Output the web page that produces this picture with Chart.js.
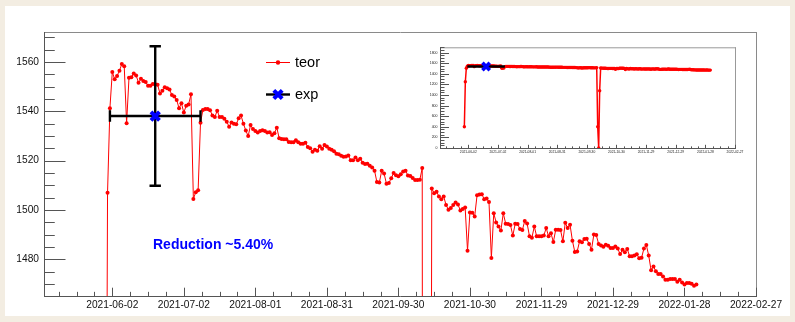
<!DOCTYPE html>
<html><head><meta charset="utf-8">
<script src="https://cdn.jsdelivr.net/npm/chart.js@4.4.0/dist/chart.umd.min.js"></script>
<style>
html,body{margin:0;padding:0;background:#f3ede2;}
#wrap{position:relative;width:795px;height:322px;overflow:hidden;}
#pad{position:absolute;left:5px;top:6px;width:785px;height:310px;background:#ffffff;}
#main{position:absolute;left:0;top:0;}
#inset{position:absolute;left:420px;top:33px;}
</style></head><body>
<div id="wrap"><div id="pad"></div>
<canvas id="main" width="795" height="322"></canvas>
<canvas id="inset" width="336" height="132"></canvas>
</div>
<script>
// ---------------- data ----------------
const teorStartDate = '2021-05-29';   // first daily value
const teorValues = [
 400,1250,1507,1541.3,1556,1553,1554.4,1556.5,1559.2,1558.3,
 1535.2,1553.6,1553.8,1555.4,1554.6,1551.6,1553.2,1552.3,1551.9,1550.4,
 1550.4,1551.1,1551,1550.8,1547.3,1548.4,1549.8,1549.4,1548.9,1546.6,
 1546,1544.6,1541.3,1543.3,1539.5,1542.3,1542.8,1546.9,1504.5,1507.2,
 1508,1535.4,1540.6,1541,1541,1540.5,1538.3,1537.7,1540.3,1537.7,
 1537.7,1537,1535.8,1533.8,1535.5,1535,1534.8,1537.2,1538.3,1535,
 1532.2,1530,1534.5,1532.8,1532,1531.4,1532,1532.3,1532,1531.4,
 1531.5,1530.4,1531.1,1533.4,1529.1,1528.8,1528.7,1528.7,1527.6,1527.5,
 1527.5,1528.3,1527.5,1526.9,1526.9,1527.3,1525.5,1525,1523.6,1524.4,
 1524,1525.9,1524.8,1526.4,1525.7,1524.8,1524.4,1523.8,1522.8,1522.6,
 1522,1521.6,1521.7,1522.1,1520.2,1520.2,1521.3,1520.2,1520.8,1519.2,
 1518.6,1518.8,1517.9,1517.2,1515.9,1511.3,1511.1,1515.9,1514.8,1510.6,
 1510.9,1512.9,1515,1514.1,1513.7,1514.5,1515.6,1515.9,1514,1513.8,
 1513,1512.2,1512.2,1512.3,1517,400,0,1080,1508.7,1506.8,
 1507.4,1505.5,1504.4,1505.5,1502,1500.1,1500.8,1502,1503,1502.2,
 1499.8,1500.4,1501,1483.5,1499,1498.9,1497.4,1506,1506.3,1506.4,
 1504.4,1504.7,1503.2,1480.5,1498.7,1494.9,1493.3,1491.7,1498.7,1494.4,
 1494.3,1493.9,1489.6,1494.4,1494.3,1492.3,1491.9,1495.5,1494.5,1489.3,
 1488.7,1493.3,1489.3,1489.3,1489.3,1489.6,1492.7,1489.3,1490.6,1487,
 1492,1492,1491.9,1487.3,1494.8,1492.7,1494,1487.5,1483,1483.2,
 1487.3,1486.9,1488.2,1488.3,1486.2,1483.9,1490.1,1489.8,1486.2,1485.6,
 1485.1,1485.9,1485.5,1484.6,1484.6,1485.2,1484.4,1482.1,1483.9,1482.8,
 1484.2,1481.2,1481.2,1481.5,1482,1480.4,1480.6,1484.4,1485.8,1481.5,
 1475.5,1477.1,1475.1,1474,1474,1473,1471.7,1471.7,1472,1472,
 1472,1470.9,1471.7,1470.6,1469.8,1470.4,1470.4,1470.1,1469.3,1469.8
];
const expDate = '2021-06-20';
const expValue = 1538.1;
const expDateErr = 19;      // days
const expValueErr = 28.3;
const xTickLabels = ['2021-06-02','2021-07-02','2021-08-01','2021-08-31','2021-09-30','2021-10-30','2021-11-29','2021-12-29','2022-01-28','2022-02-27'];
const yTickValues = [1480,1500,1520,1540,1560];
const insetYTickValues = [0,200,400,600,800,1000,1200,1400,1600,1800];
const legendLabels = ['teor','exp'];
const annotationText = 'Reduction ~5.40%';

// ---------------- helpers ----------------
const DAY = 86400000;
function dayNum(s){ return Date.UTC(+s.slice(0,4), +s.slice(5,7)-1, +s.slice(8,10))/DAY; }
const t0 = dayNum(teorStartDate);
const teorPoints = teorValues.map((v,i)=>({x:t0+i, y:v}));
const expPoint = [{x:dayNum(expDate), y:expValue}];
const xMin = dayNum(xTickLabels[0]) - 28.65;
const xMax = dayNum(xTickLabels[xTickLabels.length-1]);
const FONT = "'Liberation Sans', Arial, Helvetica, sans-serif";
Chart.defaults.font.family = FONT;

function rootAxes(o){ return {
  id:'rootAxes',
  beforeDatasetsDraw(chart){
    const {ctx, chartArea:a, scales:{x,y}} = chart;
    ctx.save();
    ctx.lineWidth = 1;
    ctx.strokeStyle = o.frameColor;
    ctx.beginPath();
    ctx.moveTo(a.left, a.top+0.5); ctx.lineTo(a.right+1, a.top+0.5);
    ctx.moveTo(a.right+0.5, a.top); ctx.lineTo(a.right+0.5, a.bottom+1);
    ctx.stroke();
    ctx.strokeStyle = o.axisColor;
    ctx.beginPath();
    ctx.moveTo(a.left+0.5, a.top); ctx.lineTo(a.left+0.5, a.bottom+1);
    ctx.moveTo(a.left, a.bottom+0.5); ctx.lineTo(a.right+1, a.bottom+0.5);
    // y ticks
    for (let v = Math.ceil(y.min/o.yMinor)*o.yMinor; v <= y.max; v += o.yMinor){
      const py = Math.round(y.getPixelForValue(v))+0.5;
      const major = Math.abs(v/o.yMajor - Math.round(v/o.yMajor)) < 1e-6;
      ctx.moveTo(a.left, py); ctx.lineTo(a.left + (major?o.yLen:o.yLen/2), py);
    }
    // x ticks
    const first = dayNum(xTickLabels[0]);
    for (let k = -8; first + k*o.xMinor <= x.max + 0.01; k++){
      const v = first + k*o.xMinor;
      if (v < x.min) continue;
      const px = Math.round(x.getPixelForValue(v))+0.5;
      const major = k % 4 === 0;
      ctx.moveTo(px, a.bottom); ctx.lineTo(px, a.bottom - (major?o.xLen:o.xLen/2));
    }
    ctx.stroke();
    ctx.restore();
  }
};}

function errBars(o){ return {
  id:'errBars',
  beforeDatasetDraw(chart, args){
    if (chart.data.datasets[args.index].label !== 'exp') return;
    const {ctx, chartArea:a, scales:{x,y}} = chart;
    const cx = x.getPixelForValue(dayNum(expDate)), cy = y.getPixelForValue(expValue);
    const xl = x.getPixelForValue(dayNum(expDate)-expDateErr), xr = x.getPixelForValue(dayNum(expDate)+expDateErr);
    const yt = y.getPixelForValue(expValue+expValueErr), yb = y.getPixelForValue(expValue-expValueErr);
    ctx.save();
    ctx.beginPath(); ctx.rect(a.left, a.top, a.right-a.left, a.bottom-a.top); ctx.clip();
    ctx.strokeStyle = '#000'; ctx.lineWidth = o.width;
    ctx.beginPath();
    ctx.moveTo(xl, cy); ctx.lineTo(xr, cy);
    ctx.moveTo(cx, yt); ctx.lineTo(cx, yb);
    if (o.cap){
      ctx.moveTo(xl, cy-o.cap); ctx.lineTo(xl, cy+o.cap);
      ctx.moveTo(xr, cy-o.cap); ctx.lineTo(xr, cy+o.cap);
      ctx.moveTo(cx-o.cap, yt); ctx.lineTo(cx+o.cap, yt);
      ctx.moveTo(cx-o.cap, yb); ctx.lineTo(cx+o.cap, yb);
    }
    ctx.stroke();
    ctx.restore();
  }
};}

const legendAndText = {
  id:'legendAndText',
  afterDraw(chart){
    const ctx = chart.ctx;
    ctx.save();
    // teor entry
    ctx.strokeStyle = '#ff0000'; ctx.lineWidth = 1;
    ctx.beginPath(); ctx.moveTo(266, 62.5); ctx.lineTo(290, 62.5); ctx.stroke();
    ctx.fillStyle = '#ff0000';
    ctx.beginPath(); ctx.arc(278, 62.5, 2.2, 0, Math.PI*2); ctx.fill();
    // exp entry
    ctx.strokeStyle = '#000'; ctx.lineWidth = 2.4;
    ctx.beginPath(); ctx.moveTo(266, 94.5); ctx.lineTo(290, 94.5); ctx.stroke();
    ctx.strokeStyle = '#0000ff'; ctx.lineWidth = 4;
    const r = 4.2;
    ctx.beginPath();
    ctx.moveTo(278-r, 94.5-r); ctx.lineTo(278+r, 94.5+r);
    ctx.moveTo(278-r, 94.5+r); ctx.lineTo(278+r, 94.5-r);
    ctx.stroke();
    ctx.fillStyle = '#000';
    ctx.font = "14.5px " + FONT;
    ctx.textBaseline = 'alphabetic'; ctx.textAlign = 'left';
    ctx.fillText(legendLabels[0], 295, 66.8);
    ctx.fillText(legendLabels[1], 295, 98.5);
    // annotation
    ctx.fillStyle = '#0000ff';
    ctx.font = "bold 14px " + FONT;
    ctx.fillText(annotationText, 153, 249);
    ctx.restore();
  }
};

// ---------------- main chart ----------------
new Chart(document.getElementById('main'), {
  type:'line',
  data:{ datasets:[
    { label:'exp', data:expPoint, showLine:false, order:0,
      pointStyle:'crossRot', pointRadius:6, pointBorderWidth:4,
      borderColor:'#0000ff', backgroundColor:'#0000ff' },
    { label:'teor', data:teorPoints, order:1, borderColor:'#ff0000', borderWidth:1,
      pointRadius:2, pointBorderWidth:0, pointBackgroundColor:'#ff0000', tension:0 }
  ]},
  options:{
    responsive:false, animation:false, events:[], devicePixelRatio:1,
    layout:{ padding:{ left:0, right:39, top:32, bottom:0 } },
    plugins:{ legend:{display:false}, tooltip:{enabled:false} },
    scales:{
      x:{ type:'linear', min:xMin, max:xMax,
        afterBuildTicks:s=>{ s.ticks = xTickLabels.map(l=>({value:dayNum(l)})); },
        afterFit:s=>{ s.height = 26; },
        grid:{display:false, drawTicks:false}, border:{display:false},
        ticks:{ autoSkip:false, maxRotation:0, minRotation:0, padding:3, color:'#111',
          font:{size:10.2}, callback:(v,i)=>xTickLabels[i] } },
      y:{ type:'linear', min:1465.1, max:1572.2,
        afterBuildTicks:s=>{ s.ticks = yTickValues.map(v=>({value:v})); },
        afterFit:s=>{ s.width = 44; },
        grid:{display:false, drawTicks:false}, border:{display:false},
        ticks:{ padding:5, color:'#111', font:{size:10.2}, callback:v=>String(v) } }
    }
  },
  plugins:[ rootAxes({frameColor:'#8a8a8a', axisColor:'#555', yMinor:5, yMajor:20, yLen:21.5, xMinor:7.5, xLen:8.3}),
            errBars({width:2.4, cap:5.7}), legendAndText ]
});

// ---------------- inset chart ----------------
new Chart(document.getElementById('inset'), {
  type:'line',
  data:{ datasets:[
    { label:'exp', data:expPoint, showLine:false, order:0,
      pointStyle:'crossRot', pointRadius:5.2, pointBorderWidth:3.6,
      borderColor:'#0000ff', backgroundColor:'#0000ff' },
    { label:'teor', data:teorPoints, order:1, borderColor:'#ff0000', borderWidth:1.5,
      pointRadius:1.7, pointBorderWidth:0, pointBackgroundColor:'#ff0000', tension:0 }
  ]},
  options:{
    responsive:false, animation:false, events:[], devicePixelRatio:1,
    layout:{ padding:{ left:0, right:21, top:14.3, bottom:0 } },
    plugins:{ legend:{display:false}, tooltip:{enabled:false} },
    scales:{
      x:{ type:'linear', min:xMin, max:xMax,
        afterBuildTicks:s=>{ s.ticks = xTickLabels.map(l=>({value:dayNum(l)})); },
        afterFit:s=>{ s.height = 17; },
        grid:{display:false, drawTicks:false}, border:{display:false},
        ticks:{ autoSkip:false, maxRotation:0, minRotation:0, padding:2, color:'#222',
          font:{size:3.3}, callback:(v,i)=>xTickLabels[i] } },
      y:{ type:'linear', min:0, max:1900,
        afterBuildTicks:s=>{ s.ticks = insetYTickValues.map(v=>({value:v})); },
        afterFit:s=>{ s.width = 20; },
        grid:{display:false, drawTicks:false}, border:{display:false},
        ticks:{ padding:2.5, color:'#222', font:{size:3.5}, callback:v=>String(v) } }
    }
  },
  plugins:[ rootAxes({frameColor:'#999', axisColor:'#555', yMinor:50, yMajor:200, yLen:9, xMinor:7.5, xLen:3.2}),
            errBars({width:2.4, cap:0}) ]
});
</script>
</body></html>
